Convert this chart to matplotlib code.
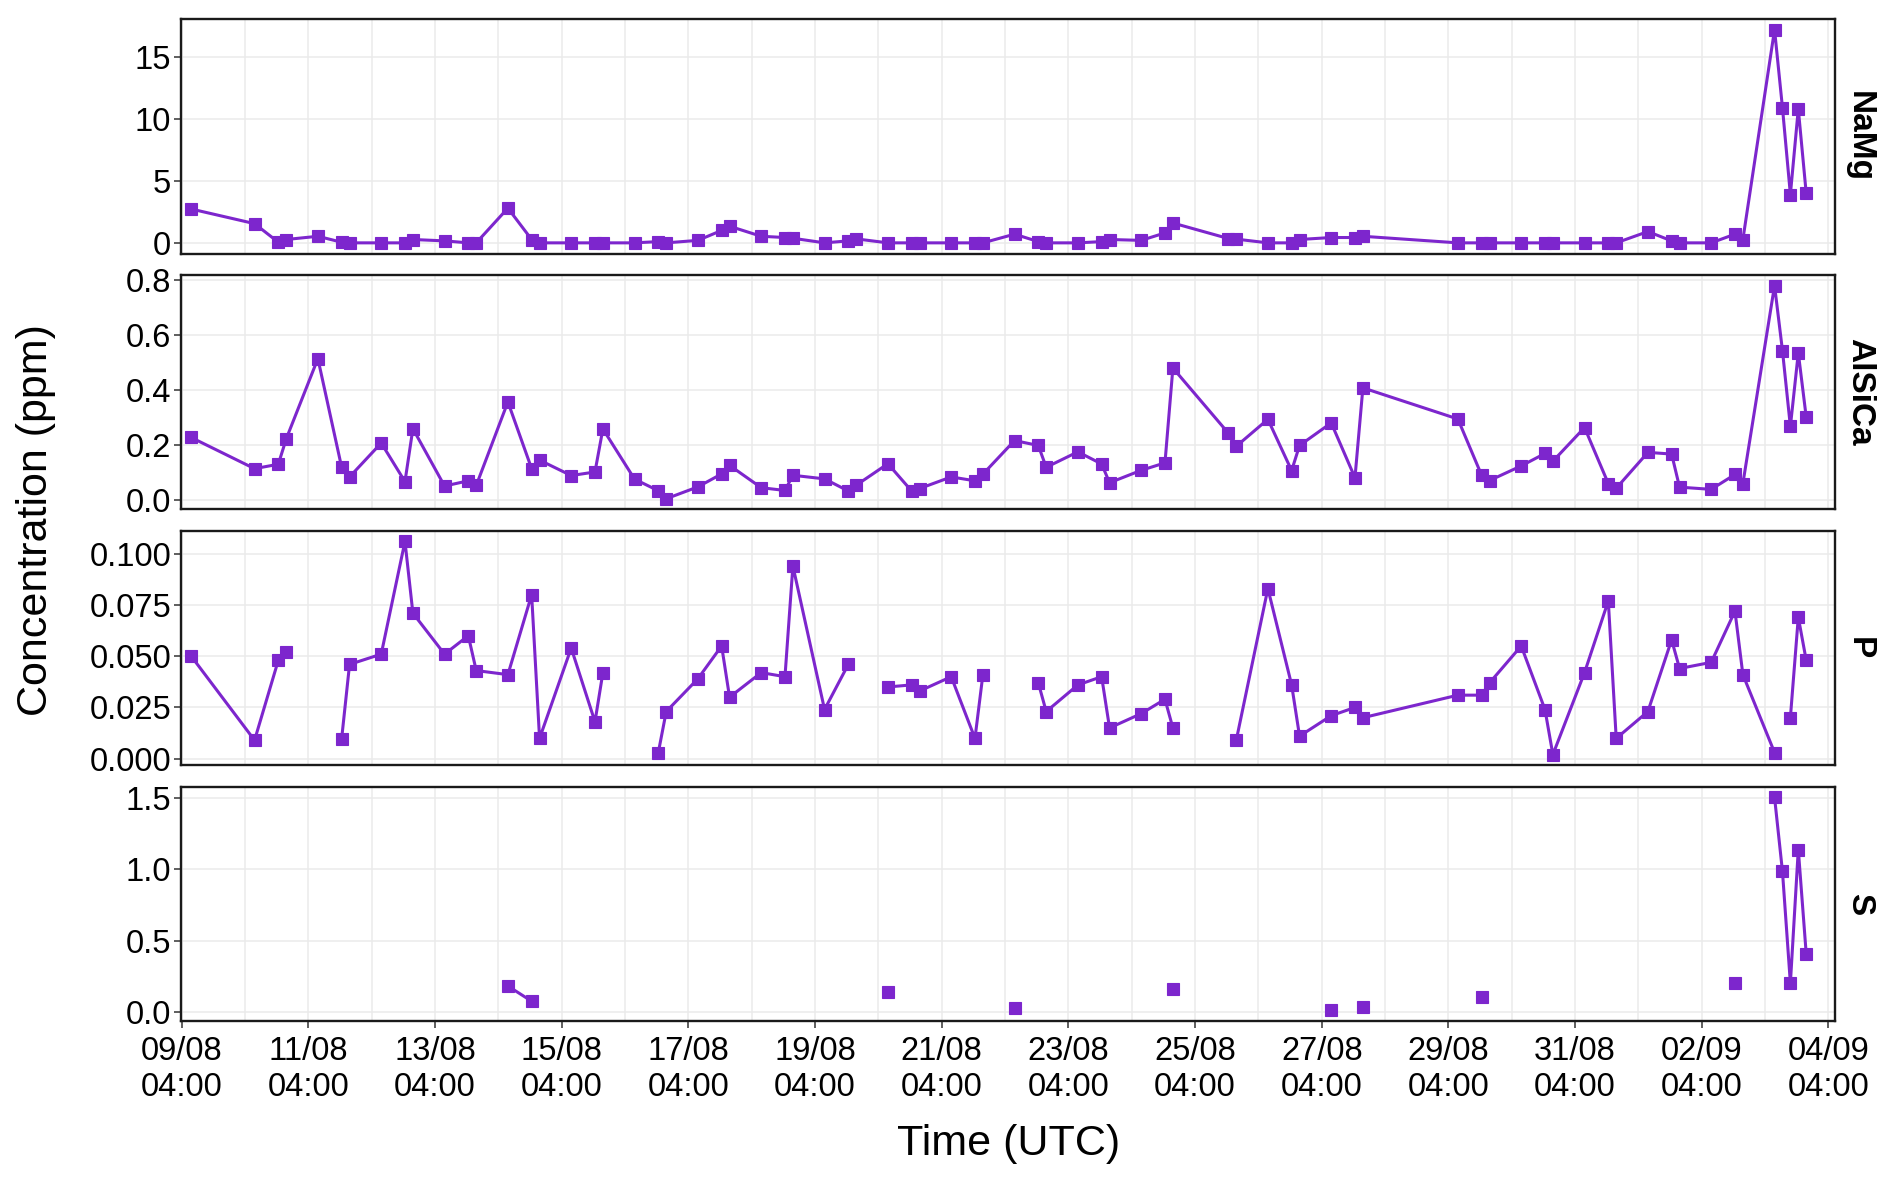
import numpy as np
import pandas as pd
import matplotlib
matplotlib.use("Agg")
import matplotlib.pyplot as plt
import matplotlib.dates as mdates
from matplotlib.ticker import FormatStrFormatter

plt.rcParams['font.family'] = ['Liberation Sans', 'DejaVu Sans']

# sampling times (UTC)
times = pd.to_datetime([
    "2022-08-09 07:36",
    "2022-08-10 07:36", "2022-08-10 16:36", "2022-08-10 19:36",
    "2022-08-11 07:36", "2022-08-11 16:36", "2022-08-11 19:36",
    "2022-08-12 07:36", "2022-08-12 16:36", "2022-08-12 19:36",
    "2022-08-13 07:36", "2022-08-13 16:36", "2022-08-13 19:36",
    "2022-08-14 07:36", "2022-08-14 16:36", "2022-08-14 19:36",
    "2022-08-15 07:36", "2022-08-15 16:36", "2022-08-15 19:36",
    "2022-08-16 07:36", "2022-08-16 16:36", "2022-08-16 19:36",
    "2022-08-17 07:36", "2022-08-17 16:36", "2022-08-17 19:36",
    "2022-08-18 07:36", "2022-08-18 16:36", "2022-08-18 19:36",
    "2022-08-19 07:36", "2022-08-19 16:36", "2022-08-19 19:36",
    "2022-08-20 07:36", "2022-08-20 16:36", "2022-08-20 19:36",
    "2022-08-21 07:36", "2022-08-21 16:36", "2022-08-21 19:36",
    "2022-08-22 07:36", "2022-08-22 16:36", "2022-08-22 19:36",
    "2022-08-23 07:36", "2022-08-23 16:36", "2022-08-23 19:36",
    "2022-08-24 07:36", "2022-08-24 16:36", "2022-08-24 19:36",
    "2022-08-25 16:36", "2022-08-25 19:36",
    "2022-08-26 07:36", "2022-08-26 16:36", "2022-08-26 19:36",
    "2022-08-27 07:36", "2022-08-27 16:36", "2022-08-27 19:36",
    "2022-08-29 07:36", "2022-08-29 16:36", "2022-08-29 19:36",
    "2022-08-30 07:36", "2022-08-30 16:36", "2022-08-30 19:36",
    "2022-08-31 07:36", "2022-08-31 16:36", "2022-08-31 19:36",
    "2022-09-01 07:36", "2022-09-01 16:36", "2022-09-01 19:36",
    "2022-09-02 07:36", "2022-09-02 16:36", "2022-09-02 19:36",
    "2022-09-03 07:36", "2022-09-03 10:36", "2022-09-03 13:36",
    "2022-09-03 16:36", "2022-09-03 19:36",
]).to_pydatetime()

nan = np.nan

namg = [
    2.73,
    1.55, 0.05, 0.27,
    0.53, 0.05, 0.00,
    0.00, 0.00, 0.27,
    0.16, 0.00, 0.00,
    2.80, 0.27, 0.00,
    0.00, 0.00, 0.00,
    0.00, 0.10, 0.00,
    0.20, 1.00, 1.34,
    0.53, 0.43, 0.37,
    0.00, 0.16, 0.32,
    0.00, 0.00, 0.00,
    0.00, 0.00, 0.00,
    0.70, 0.10, 0.00,
    0.00, 0.10, 0.27,
    0.20, 0.80, 1.60,
    0.35, 0.30,
    0.00, 0.00, 0.27,
    0.43, 0.43, 0.53,
    0.00, 0.00, 0.00,
    0.00, 0.00, 0.00,
    0.00, 0.00, 0.00,
    0.91, 0.16, 0.00,
    0.00, 0.70, 0.27,
    17.2, 10.9, 3.9, 10.8, 4.0,
]

alsica = [
    0.228,
    0.115, 0.131, 0.223,
    0.514, 0.120, 0.085,
    0.208, 0.068, 0.260,
    0.052, 0.071, 0.054,
    0.357, 0.115, 0.146,
    0.090, 0.103, 0.259,
    0.077, 0.035, 0.006,
    0.049, 0.096, 0.127,
    0.046, 0.036, 0.091,
    0.078, 0.034, 0.055,
    0.133, 0.034, 0.043,
    0.085, 0.071, 0.095,
    0.217, 0.199, 0.120,
    0.176, 0.132, 0.064,
    0.109, 0.136, 0.480,
    0.244, 0.196,
    0.294, 0.108, 0.199,
    0.281, 0.082, 0.408,
    0.295, 0.091, 0.072,
    0.125, 0.170, 0.142,
    0.264, 0.061, 0.044,
    0.174, 0.168, 0.048,
    0.040, 0.094, 0.061,
    0.779, 0.543, 0.268, 0.535, 0.302,
]

p = [
    0.050,
    0.009, 0.048, 0.052,
    nan, 0.0097, 0.046,
    0.051, 0.106, 0.071,
    0.051, 0.060, 0.043,
    0.041, 0.080, 0.0099,
    0.054, 0.018, 0.042,
    nan, 0.003, 0.023,
    0.039, 0.055, 0.030,
    0.042, 0.040, 0.094,
    0.024, 0.046, nan,
    0.035, 0.036, 0.033,
    0.040, 0.0099, 0.041,
    nan, 0.037, 0.023,
    0.036, 0.040, 0.015,
    0.022, 0.029, 0.015,
    nan, 0.0089,
    0.083, 0.036, 0.011,
    0.021, 0.025, 0.020,
    0.031, 0.031, 0.037,
    0.055, 0.024, 0.002,
    0.042, 0.077, 0.0099,
    0.023, 0.058, 0.044,
    0.047, 0.072, 0.041,
    0.003, nan, 0.020, 0.069, 0.048,
]

s = [
    nan,
    nan, nan, nan,
    nan, nan, nan,
    nan, nan, nan,
    nan, nan, nan,
    0.181, 0.074, nan,
    nan, nan, nan,
    nan, nan, nan,
    nan, nan, nan,
    nan, nan, nan,
    nan, nan, nan,
    0.140, nan, nan,
    nan, nan, nan,
    0.023, nan, nan,
    nan, nan, nan,
    nan, nan, 0.163,
    nan, nan,
    nan, nan, nan,
    0.009, nan, 0.033,
    nan, 0.102, nan,
    nan, nan, nan,
    nan, nan, nan,
    nan, nan, nan,
    nan, 0.200, nan,
    1.507, 0.986, 0.200, 1.140, 0.407,
]

elements = ["NaMg", "AlSiCa", "P", "S"]
series = [namg, alsica, p, s]
yticks = [[0, 5, 10, 15], [0.0, 0.2, 0.4, 0.6, 0.8],
          [0.0, 0.025, 0.05, 0.075, 0.1], [0.0, 0.5, 1.0, 1.5]]
yfmt = ["%d", "%.1f", "%.3f", "%.1f"]

col = "#7D26CD"
start = pd.Timestamp("2022-08-09 04:00")
end = pd.Timestamp("2022-09-04 04:00")
major = pd.date_range(start, end, freq="2D").to_pydatetime()
minor = pd.date_range(start, end, freq="1D").to_pydatetime()

fig, axes = plt.subplots(4, 1, sharex=True, figsize=(18.92, 11.86), dpi=100)
fig.subplots_adjust(left=0.0957, right=0.970, top=0.984, bottom=0.139, hspace=0.091)

for ax, name, vals, yt, fmt in zip(axes, elements, series, yticks, yfmt):
    v = np.array(vals, dtype=float)
    ax.plot(times, v, color=col, lw=2.2, marker="s", ms=8.3, mew=0.8, zorder=3)
    lo, hi = np.nanmin(v), np.nanmax(v)
    pad = 0.05 * (hi - lo)
    ax.set_ylim(lo - pad, hi + pad)
    ax.set_yticks(yt)
    ax.yaxis.set_major_formatter(FormatStrFormatter(fmt))
    ax.set_xticks(major)
    ax.set_xticks(minor, minor=True)
    ax.grid(True, which="both", axis="x", color="#EBEBEB", lw=1.1)
    ax.grid(True, which="major", axis="y", color="#EBEBEB", lw=1.1)
    ax.set_axisbelow(True)
    for sp in ax.spines.values():
        sp.set_linewidth(1.7)
        sp.set_color("#1a1a1a")
    ax.tick_params(axis="y", labelsize=23.5, length=5, width=1.1, color="#333333", pad=2)
    ax.tick_params(axis="x", which="minor", length=0)
    ax.tick_params(axis="x", which="major", labelsize=23.5, length=5, width=1.1,
                   color="#333333", pad=6)
    ax.text(1.0145, 0.5, name, transform=ax.transAxes, rotation=-90,
            ha="center", va="center", fontsize=24, fontweight="bold")

for ax in axes[:-1]:
    ax.tick_params(axis="x", which="major", bottom=False, labelbottom=False)

axes[-1].set_xlim(start - pd.Timedelta(minutes=15), end + pd.Timedelta(hours=2.6))
axes[-1].xaxis.set_major_formatter(mdates.DateFormatter("%d/%m\n%H:%M"))

fig.text(0.019, 0.5616, "Concentration (ppm)", rotation=90, ha="center",
         va="center", fontsize=31)
fig.text(0.533, 0.035, "Time (UTC)", ha="center", va="center", fontsize=31)

fig.savefig("out.png", dpi=100, facecolor="white")
